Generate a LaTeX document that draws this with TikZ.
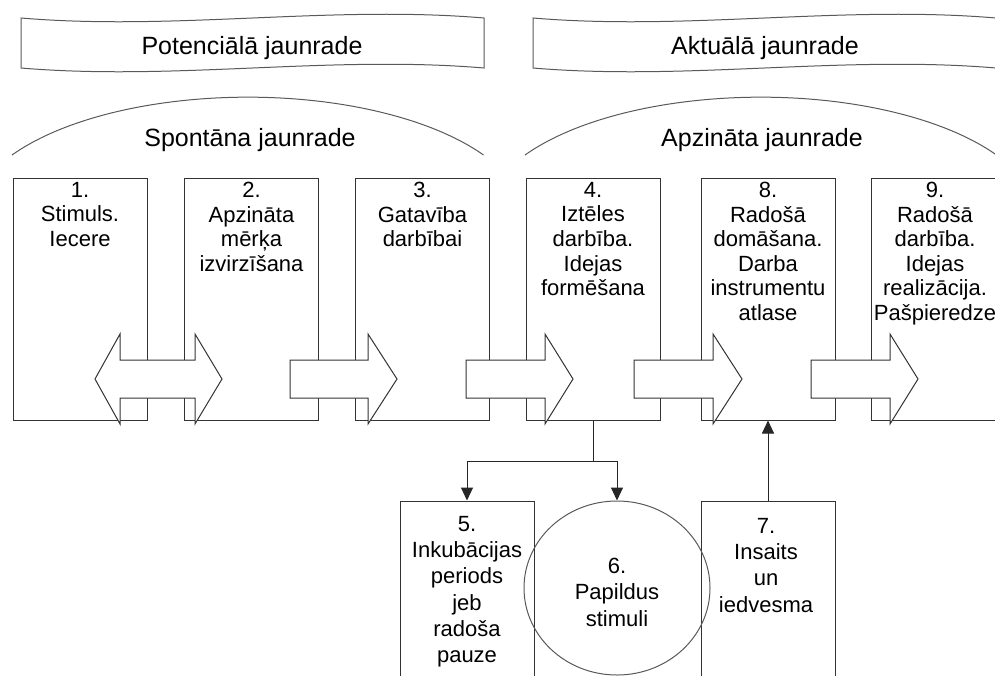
\documentclass[tikz,border=0pt]{standalone}
\usepackage{fontspec}
\setmainfont{Liberation Sans}
\usetikzlibrary{arrows.meta,shapes.geometric}

% wide block arrow: shaft start, head base, tip (all at the arrow row)
\newcommand\fatarrow[3]{%
  \draw[blockarrow] (#1,360) -- (#2,360) -- (#2,334) -- (#3,379)
    -- (#2,424) -- (#2,398) -- (#1,398) -- cycle;}

\begin{document}
\begin{tikzpicture}[x=1pt,y=-1pt,
  outline/.style={draw=black!80, line width=1pt},
  soft/.style={draw=black!65, line width=1pt},
  stage/.style={outline, rectangle, minimum width=134pt, inner sep=0pt},
  caption/.style={font=\fontsize{25}{30}\selectfont, inner sep=0pt, anchor=base},
  steptext/.style={font=\fontsize{22}{24.6}\selectfont, align=center, anchor=north, inner sep=0pt},
  lowtext/.style={steptext, font=\fontsize{22}{26.3}\selectfont},
  blockarrow/.style={outline, fill=white, line join=miter},
  link/.style={draw=black!85, line width=1pt, -{Triangle[length=13pt,width=12pt]}},
  wire/.style={draw=black!85, line width=1pt},
]
\useasboundingbox (0,0) rectangle (995,675);
\clip (0,0) rectangle (995,675);

% wavy banners
\draw[soft] (21,18) .. controls (175,31) and (330,5) .. (484,18) -- (484,68)
  .. controls (330,55) and (175,81) .. (21,68) -- cycle;
\draw[soft] (533,18) .. controls (687,31) and (842,5) .. (996,18) -- (996,68)
  .. controls (842,55) and (687,81) .. (533,68) -- cycle;
\node[caption] (potential) at (252,54) {Potenciālā jaunrade};
\node[caption] (actual) at (765,54) {Aktuālā jaunrade};

% arcs over the two groups
\draw[soft] (12,155) arc[start angle=-148, end angle=-32, x radius=278, y radius=123];
\draw[soft] (525,155) arc[start angle=-148, end angle=-32, x radius=278, y radius=123];
\node[caption] (spont) at (250,146) {Spontāna jaunrade};
\node[caption] (consc) at (762,146) {Apzināta jaunrade};

% upper row of stages
\node[stage, minimum height=242pt] (b1) at (80,299) {};
\node[stage, minimum height=242pt] (b2) at (251.5,299) {};
\node[stage, minimum height=242pt] (b3) at (422.5,299) {};
\node[stage, minimum height=242pt] (b4) at (593,299) {};
\node[stage, minimum height=242pt] (b8) at (768,299) {};
\node[stage, minimum height=242pt] (b9) at (938,299) {};

\node[steptext] (t1) at (80,182) {1.\\Stimuls.\\Iecere};
\node[steptext] (t2) at (251.5,182) {2.\\Apzināta\\mērķa\\izvirzīšana};
\node[steptext] (t3) at (422.5,182) {3.\\Gatavība\\darbībai};
\node[steptext] (t4) at (593,182) {4.\\Iztēles\\darbība.\\Idejas\\formēšana};
\node[steptext] (t8) at (768,182) {8.\\Radošā\\domāšana.\\Darba\\instrumentu\\atlase};
\node[steptext] (t9) at (935,182) {9.\\Radošā\\darbība.\\Idejas\\realizācija.\\Pašpieredze};

% lower row
\node[stage, minimum height=220pt] (b5) at (467,611) {};
\node[stage, minimum height=220pt] (b7) at (768,611) {};
\node[soft, ellipse, minimum width=186pt, minimum height=174pt, inner sep=0pt] (c6) at (617,588) {};

\node[lowtext] (t5) at (467,516) {5.\\Inkubācijas\\periods\\jeb\\radoša\\pauze};
\node[lowtext] (t6) at (617,558) {6.\\Papildus\\stimuli};
\node[lowtext] (t7) at (766,518) {7.\\Insaits\\un\\iedvesma};

% block arrows between the stages
\draw[blockarrow] (95,379) -- (120,334) -- (120,360) -- (195,360) -- (195,334)
  -- (222,379) -- (195,424) -- (195,398) -- (120,398) -- (120,424) -- cycle;
\fatarrow{290}{368}{397}
\fatarrow{466}{545}{573}
\fatarrow{634}{713}{742}
\fatarrow{811}{890}{918}

% connectors
\coordinate (jn) at (593,461);
\draw[wire] (b4.south) -- (jn);
\draw[link] (jn) -| (b5.north);
\draw[link] (jn) -| (c6.north);
\draw[link] (b7.north) -- (b8.south);
\end{tikzpicture}
\end{document}
